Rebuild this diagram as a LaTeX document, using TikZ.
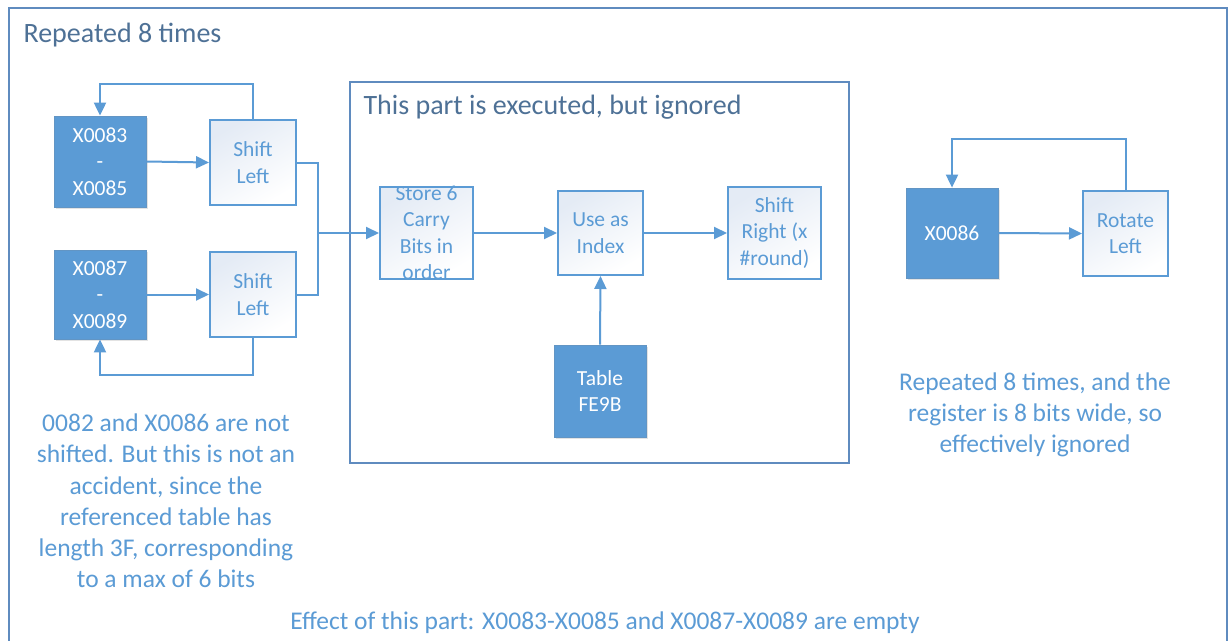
\documentclass[tikz,border=0pt]{standalone}
\usepackage{fontspec}
\setmainfont{Carlito}
\usetikzlibrary{arrows.meta,shadows}
\definecolor{accent}{HTML}{5B9BD5}
\definecolor{framec}{HTML}{5F8BBF}
\definecolor{titlec}{HTML}{4E7196}
\definecolor{shadetop}{HTML}{E4EBF5}
\tikzset{
  body/.style={font=\fontsize{21.5}{26.5}\selectfont, align=center},
  filledbox/.style={body, fill=accent, draw=accent!80!gray, line width=0.8pt, text=white,
    drop shadow={opacity=0.22, shadow xshift=1.5pt, shadow yshift=-2pt}},
  whitebox/.style={body, draw=accent, line width=2pt, text=accent, top color=shadetop, bottom color=white, shading angle=30},
  conn/.style={draw=accent, line width=2pt},
  arr/.style={conn, -{Triangle[length=13pt,width=12pt]}},
  note/.style={font=\fontsize{25.5}{31.2}\selectfont, align=center, text=accent},
  titletxt/.style={font=\fontsize{28}{33}\selectfont, text=titlec},
  framebox/.style={draw=framec, line width=2pt}
}
\begin{document}
\begin{tikzpicture}[x=1pt,y=-1pt]
\useasboundingbox (0,0) rectangle (1231,640);
\fill[white] (0,0) rectangle (1231,640);
% outer frame
\draw[framebox] (9,660) -- (9,8) -- (1227,8) -- (1227,660);
\node[titletxt, anchor=west] (t1) at (20,35) {Repeated 8 times};
% inner frame
\draw[framebox] (350,82) rectangle (849,463);
\node[titletxt, anchor=west] (t2) at (360,107) {This part is executed, but ignored};

% left part
\node[filledbox, minimum width=92pt, minimum height=91pt] (x83) at (100,161.5) {X0083\\-\\X0085};
\node[whitebox, minimum width=86pt, minimum height=85pt] (sl1) at (253,162.5) {Shift\\Left};
\node[filledbox, minimum width=92pt, minimum height=89pt] (x87) at (100,294.5) {X0087\\-\\X0089};
\node[whitebox, minimum width=86pt, minimum height=85pt] (sl2) at (253,294.5) {Shift\\Left};

\draw[arr] (x83.east) -- (sl1.west);
\draw[arr] (x87.east) -- (sl2.west);
\draw[arr] (sl1.north) -- ++(0,-35) -| (x83.north);
\draw[arr] (sl2.south) -- ++(0,37) -| (x87.south);

% inner part
\node[whitebox, minimum width=93pt, minimum height=92pt] (store) at (426.5,233) {};
\node[body, text=accent] (storetxt) at (store.center) {Store 6\\Carry\\Bits in\\order};
\node[whitebox, minimum width=85pt, minimum height=84pt] (use) at (600.5,233) {Use as\\Index};
\node[whitebox, minimum width=93pt, minimum height=92pt] (sr) at (774.5,233) {Shift\\Right (x\\\#round)};
\node[filledbox, minimum width=92pt, minimum height=92pt] (tbl) at (600,391) {Table\\FE9B};

\coordinate (j) at (318,233);
\draw[arr] (sl1.east) -| (j) -- (store.west);
\draw[conn] (sl2.east) -| (j);
\draw[arr] (store.east) -- (use.west);
\draw[arr] (use.east) -- (sr.west);
\draw[arr] (tbl.north) -- (use.south);

% right part
\node[filledbox, minimum width=92pt, minimum height=90pt] (x86) at (952,233) {X0086};
\node[whitebox, minimum width=85pt, minimum height=85pt] (rot) at (1125.5,233.5) {Rotate\\Left};
\draw[arr] (x86.east) -- (rot.west);
\draw[arr] (rot.north) -- ++(0,-51) -| (x86.north);

% notes
\node[note] (n1) at (166,501) {0082 and X0086 are not\\shifted. But this is not an\\accident, since the\\referenced table has\\length 3F, corresponding\\to a max of 6 bits};
\node[note] (n2) at (1035,415) {Repeated 8 times, and the\\register is 8 bits wide, so\\effectively ignored};
\node[note] (n3) at (605,623) {Effect of this part: X0083-X0085 and X0087-X0089 are empty};
\end{tikzpicture}
\end{document}
